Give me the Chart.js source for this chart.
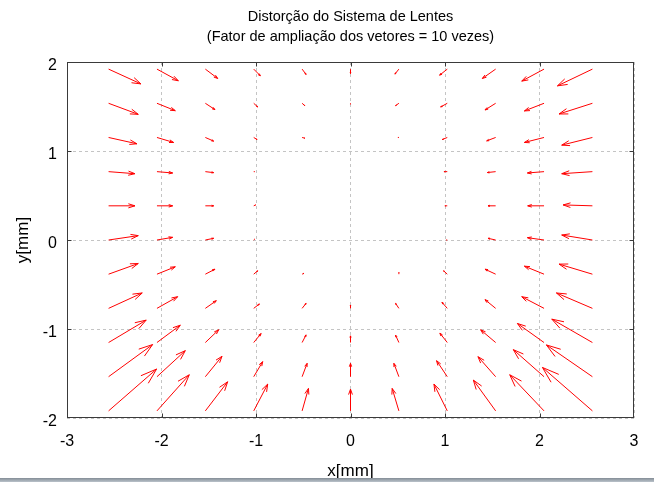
<!DOCTYPE html>
<html>
<head>
<meta charset="utf-8">
<script src="https://cdn.jsdelivr.net/npm/chart.js@4.4.0/dist/chart.umd.min.js"></script>
<style>
  html, body { margin: 0; padding: 0; background: #fff; }
  #wrap { position: relative; width: 654px; height: 482px; overflow: hidden; }
  #barra { position: absolute; left: 0; right: 0; bottom: 0; height: 4px; background: linear-gradient(#848d96, #bac2ca); }
</style>
</head>
<body>
<div id="wrap">
  <canvas id="grafico" width="654" height="482"></canvas>
  <div id="barra"></div>
</div>
<script>
// Pontos da grade (mm)
const posX = [-2.56, -2.048, -1.536, -1.024, -0.512, 0, 0.512, 1.024, 1.536, 2.048, 2.56];
const posY = [1.92, 1.536, 1.152, 0.768, 0.384, 0, -0.384, -0.768, -1.152, -1.536, -1.92];

// Componentes dos vetores ja ampliados 10x (linhas = posY, colunas = posX)
const vetU = [
  [0.342, 0.226, 0.131, 0.070, 0.042, 0.000, -0.042, -0.081, -0.141, -0.236, -0.370],
  [0.314, 0.194, 0.102, 0.042, 0.028, 0.000, -0.035, -0.070, -0.113, -0.208, -0.353],
  [0.300, 0.176, 0.088, 0.035, 0.028, 0.000, -0.010, -0.053, -0.095, -0.208, -0.325],
  [0.279, 0.166, 0.088, 0.010, 0.000, 0.000, 0.000, -0.035, -0.088, -0.176, -0.325],
  [0.279, 0.166, 0.088, 0.020, 0.000, 0.000, 0.000, -0.025, -0.081, -0.173, -0.310],
  [0.314, 0.166, 0.088, 0.010, 0.000, 0.000, 0.000, -0.010, -0.081, -0.176, -0.325],
  [0.314, 0.194, 0.102, 0.042, 0.020, 0.000, 0.000, -0.039, -0.113, -0.208, -0.353],
  [0.356, 0.219, 0.116, 0.060, 0.042, 0.000, -0.035, -0.056, -0.113, -0.236, -0.381],
  [0.398, 0.247, 0.141, 0.078, 0.042, 0.000, -0.035, -0.078, -0.159, -0.282, -0.430],
  [0.466, 0.300, 0.176, 0.095, 0.053, 0.000, -0.053, -0.113, -0.187, -0.325, -0.487],
  [0.508, 0.342, 0.236, 0.148, 0.067, 0.000, -0.071, -0.141, -0.236, -0.363, -0.529]
];
const vetV = [
  [-0.166, -0.131, -0.105, -0.075, -0.060, -0.050, -0.056, -0.068, -0.105, -0.135, -0.188],
  [-0.124, -0.083, -0.071, -0.041, -0.026, -0.010, -0.026, -0.041, -0.075, -0.086, -0.120],
  [-0.071, -0.056, -0.041, -0.023, -0.008, 0.000, 0.000, -0.023, -0.038, -0.056, -0.086],
  [-0.023, -0.015, -0.011, 0.000, 0.000, 0.000, 0.000, 0.000, -0.010, -0.015, -0.023],
  [0.000, 0.000, 0.000, 0.010, 0.000, 0.000, 0.000, 0.000, 0.000, 0.000, 0.010],
  [0.049, 0.030, 0.019, 0.010, 0.000, 0.000, 0.000, 0.000, 0.019, 0.026, 0.056],
  [0.120, 0.083, 0.056, 0.038, 0.010, 0.000, 0.020, 0.038, 0.056, 0.090, 0.113],
  [0.173, 0.131, 0.086, 0.049, 0.056, 0.038, 0.056, 0.068, 0.098, 0.131, 0.173],
  [0.252, 0.195, 0.143, 0.101, 0.086, 0.075, 0.083, 0.105, 0.143, 0.214, 0.263],
  [0.361, 0.293, 0.229, 0.169, 0.150, 0.150, 0.150, 0.180, 0.225, 0.304, 0.357],
  [0.470, 0.406, 0.327, 0.301, 0.252, 0.244, 0.252, 0.301, 0.346, 0.406, 0.488]
];

const ticksX = [-3, -2, -1, 0, 1, 2, 3];
const ticksY = [-2, -1, 0, 1, 2];

const TAM_PONTA = 0.25;  // tamanho relativo da ponta da seta

// monta os pontos de origem das setas
const pontos = [];
posY.forEach((yy, i) => {
    posX.forEach((xx, j) => {
        pontos.push({ x: xx, y: yy, u: vetU[i][j], v: vetV[i][j] });
    });
});

Chart.defaults.font.family = '"Liberation Sans", Arial, sans-serif';
Chart.defaults.color = '#000';

// desenha as setas (estilo quiver) e a moldura com ticks para dentro
const setas = {
    id: 'setas',
    afterDatasetsDraw(chart) {
        const { ctx, chartArea: a, scales: { x, y } } = chart;
        const px = v => x.getPixelForValue(v);
        const py = v => y.getPixelForValue(v);

        ctx.save();
        ctx.beginPath();
        ctx.rect(a.left, a.top, a.right - a.left, a.bottom - a.top);
        ctx.clip();
        ctx.strokeStyle = '#ff0000';
        ctx.lineWidth = 1;
        chart.data.datasets[0].data.forEach(p => {
            if (!p.u && !p.v) return;
            const xe = p.x + p.u, ye = p.y + p.v;
            const xt = p.x + p.u * (1 - TAM_PONTA), yt = p.y + p.v * (1 - TAM_PONTA);
            const k = TAM_PONTA / 3;
            ctx.beginPath();
            ctx.moveTo(px(p.x), py(p.y));
            ctx.lineTo(px(xe), py(ye));
            ctx.moveTo(px(xt - p.v * k), py(yt + p.u * k));
            ctx.lineTo(px(xe), py(ye));
            ctx.lineTo(px(xt + p.v * k), py(yt - p.u * k));
            ctx.stroke();
        });
        ctx.restore();

        // moldura
        const l = Math.round(a.left) + 0.5, r = Math.round(a.right) - 0.5;
        const t = Math.round(a.top) + 0.5, b = Math.round(a.bottom) - 0.5;
        ctx.save();
        ctx.strokeStyle = '#3a3a3a';
        ctx.lineWidth = 1;
        ctx.strokeRect(l, t, r - l, b - t);
        ctx.beginPath();
        ticksX.slice(1, -1).forEach(v => {
            const xx = Math.round(px(v)) + 0.5;
            ctx.moveTo(xx, b); ctx.lineTo(xx, b - 4);
            ctx.moveTo(xx, t); ctx.lineTo(xx, t + 4);
        });
        ticksY.slice(1, -1).forEach(v => {
            const yy = Math.round(py(v)) + 0.5;
            ctx.moveTo(l, yy); ctx.lineTo(l + 4, yy);
            ctx.moveTo(r, yy); ctx.lineTo(r - 4, yy);
        });
        ctx.stroke();
        ctx.restore();
    }
};

const ctx = document.getElementById('grafico').getContext('2d');
const grafico = new Chart(ctx, {
    type: 'scatter',
    data: {
        datasets: [{
            label: 'vetores',
            data: pontos,
            pointRadius: 0,
            showLine: false
        }]
    },
    options: {
        responsive: false,
        animation: false,
        layout: { padding: { left: 0, right: 20, top: 0, bottom: 0 } },
        plugins: {
            legend: { display: false },
            tooltip: { enabled: false },
            title: {
                display: true,
                fullSize: false,
                text: ['Distorção do Sistema de Lentes', '(Fator de ampliação dos vetores = 10 vezes)'],
                color: '#000',
                font: { size: 14.5, weight: 'normal', lineHeight: '20px' },
                padding: { top: 7, bottom: 15 }
            }
        },
        scales: {
            x: {
                type: 'linear',
                min: -3,
                max: 3,
                afterBuildTicks: s => { s.ticks = ticksX.map(v => ({ value: v })); },
                ticks: { font: { size: 16 }, padding: 14, color: '#000' },
                grid: { color: '#c4c4c4', drawTicks: false },
                border: { display: false, dash: [3, 3] },
                title: { display: true, text: 'x[mm]', color: '#000', font: { size: 17 }, padding: { top: 0, bottom: 0 } },
                afterFit: s => { s.height = 64; }
            },
            y: {
                type: 'linear',
                min: -2,
                max: 2,
                afterBuildTicks: s => { s.ticks = ticksY.map(v => ({ value: v })); },
                ticks: { font: { size: 16 }, padding: 10, labelOffset: 4, color: '#000' },
                grid: { color: '#c4c4c4', drawTicks: false },
                border: { display: false, dash: [3, 3] },
                title: { display: true, text: 'y[mm]', color: '#000', font: { size: 17 }, padding: { top: 13, bottom: 0 } },
                afterFit: s => { s.width = 67; }
            }
        }
    },
    plugins: [setas]
});
</script>
</body>
</html>
